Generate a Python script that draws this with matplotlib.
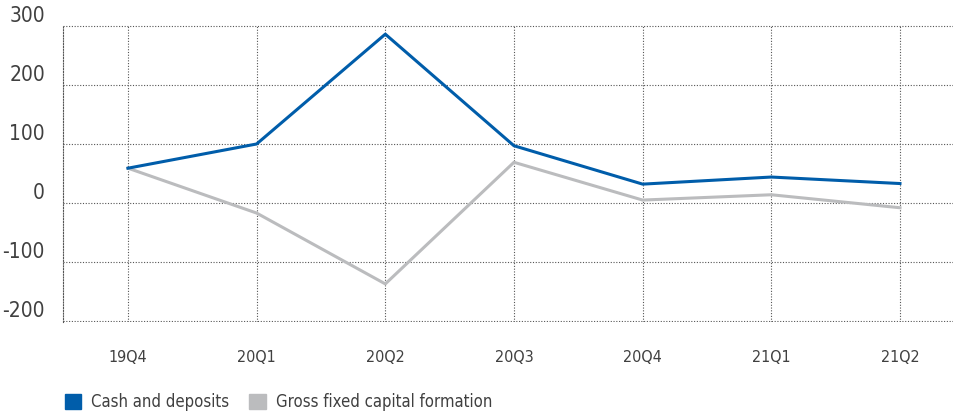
import matplotlib.pyplot as plt
from matplotlib.patches import Patch

quarters = ['19Q4', '20Q1', '20Q2', '20Q3', '20Q4', '21Q1', '21Q2']
cash_deposits = [59, 100, 286, 97, 32, 44, 33]
gross_fixed = [59, -17, -137, 69, 5, 14, -8]

blue = '#005DAA'
grey = '#BBBCBE'
plt.rcParams['font.family'] = ['DejaVu Sans']
plt.rcParams['font.stretch'] = 'condensed'

fig = plt.figure(figsize=(9.54, 4.16), dpi=100)
ax = fig.add_axes([63 / 954, 1 - 322 / 416, 1 - 63 / 954, (322 - 25) / 416])

x = range(len(quarters))
ax.plot(x, gross_fixed, color=grey, lw=2.2, zorder=3)
ax.plot(x, cash_deposits, color=blue, lw=2.2, zorder=4)

ax.set_xlim(-0.505, 6.42)
ax.set_ylim(-201.5, 301.5)
ax.set_yticks([-200, -100, 0, 100, 200, 300])
ax.set_yticklabels(['-200', '-100', '0', '100', '200', '300'])
ax.set_xticks(list(x))
ax.set_xticklabels(quarters)

ax.grid(True, color='#555555', linestyle=(0, (1, 1.5)), lw=0.8)
for s in ['top', 'right', 'bottom']:
    ax.spines[s].set_visible(False)
ax.spines['left'].set_linestyle((0, (1, 1.5)))
ax.spines['left'].set_color('#555555')
ax.spines['left'].set_linewidth(0.8)

ax.tick_params(axis='y', length=0, pad=13, labelsize=15, labelcolor='#404040')
ax.tick_params(axis='x', length=0, pad=20, labelsize=11.5, labelcolor='#404040')
for lbl in ax.get_yticklabels():
    lbl.set_verticalalignment('bottom')

handles = [Patch(color=blue, label='Cash and deposits'),
           Patch(color=grey, label='Gross fixed capital formation')]
fig.legend(handles=handles, loc='center left', bbox_to_anchor=(0.052, 0.034),
           ncol=2, frameon=False, fontsize=12, handlelength=1.0, handleheight=1.0,
           handletextpad=0.6, columnspacing=1.2, labelcolor='#404040')

fig.savefig('out.png', dpi=100)
